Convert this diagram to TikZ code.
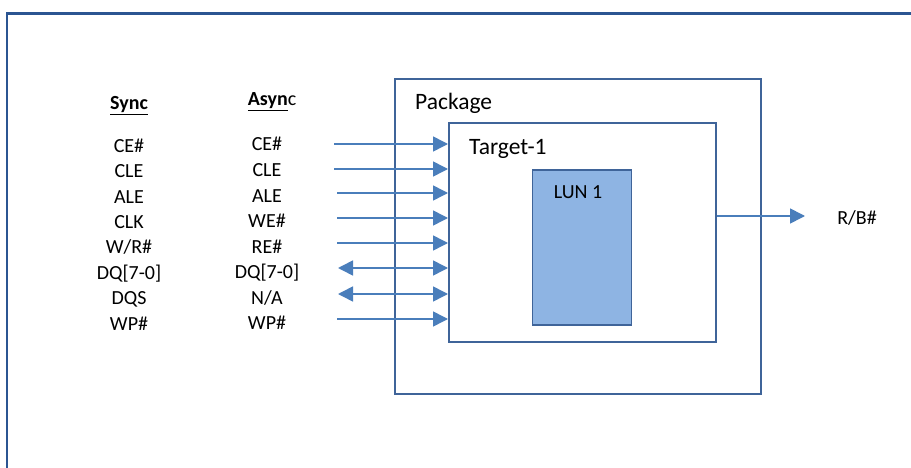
\documentclass[tikz,border=0pt]{standalone}
\usepackage{fontspec}
\setmainfont{Carlito}
\usetikzlibrary{arrows.meta}
\definecolor{frame}{HTML}{2B5592}
\definecolor{boxline}{HTML}{3F6499}
\definecolor{arr}{HTML}{4A7EBB}
\definecolor{lunfill}{HTML}{8EB4E3}
\begin{document}
\begin{tikzpicture}[x=1pt,y=-1pt,
  boxst/.style={draw=boxline,line width=1.6pt,fill=white},
  lbl/.style={font=\fontsize{20}{20}\selectfont,inner sep=0pt,anchor=center},
  big/.style={font=\fontsize{23.5}{23.5}\selectfont,anchor=base west,inner sep=0pt},
  sig/.style={draw=arr,line width=1.6pt,-{Triangle[length=15pt,width=15pt]}},
  dsig/.style={draw=arr,line width=1.6pt,{Triangle[length=15pt,width=15pt]}-{Triangle[length=15pt,width=15pt]}}]
\useasboundingbox (0,0) rectangle (911,468);
\fill[white] (0,0) rectangle (911,468);
\draw[frame,line width=2.2pt] (7,470) -- (7,13.5) -- (913,13.5);
% boxes
\node[boxst,minimum width=366pt,minimum height=315pt,anchor=north west,inner sep=0pt] (pkg) at (394,78) {};
\node[big] (pkgl) at (415,110) {Package};
\node[boxst,minimum width=267pt,minimum height=219pt,anchor=north west,inner sep=0pt] (tgt) at (448,122) {};
\node[big] (tgtl) at (469,155) {Target-1};
\node[draw=boxline,line width=1.6pt,fill=lunfill,minimum width=99pt,minimum height=155pt,anchor=north west,inner sep=0pt] (lun) at (531.5,169) {};
\node[lbl,anchor=base] (lunl) at (578,199) {LUN 1};
% headers
\node[lbl,anchor=base] (hs) at (129,110) {\textbf{\underline{Sync}}};
\node[lbl,anchor=base] (ha) at (272,106) {\textbf{\underline{Asyn}}c};
% sync column
\foreach \t/\y [count=\i] in {{CE\#}/153,{CLE}/178,{ALE}/204,{CLK}/229,{W/R\#}/254,{DQ[7-0]}/279,{DQS}/304,{WP\#}/330}
  \node[lbl,anchor=base] (s\i) at (129,\y) {\t};
\foreach \t/\y [count=\i] in {{CE\#}/151,{CLE}/177,{ALE}/203,{WE\#}/228,{RE\#}/253,{DQ[7-0]}/278,{N/A}/304,{WP\#}/329}
  \node[lbl,anchor=base] (a\i) at (267,\y) {\t};
% signal arrows
\coordinate (c1) at (334,144);
\coordinate (c2) at (334,169);
\coordinate (c3) at (337,193);
\coordinate (c4) at (337,218);
\coordinate (c5) at (337,243);
\coordinate (c6) at (338,268);
\coordinate (c7) at (338,294);
\coordinate (c8) at (337,319);
\foreach \i in {1,2,3,4,5,8}
  \draw[sig] (c\i) -- (c\i -| tgt.west);
\foreach \i in {6,7}
  \draw[dsig] (c\i) -- (c\i -| tgt.west);
% R/B#
\coordinate (rb) at (805,216);
\draw[sig] (rb -| tgt.east) -- (rb);
\node[lbl] (rbl) at (857,218) {R/B\#};
\end{tikzpicture}
\end{document}
